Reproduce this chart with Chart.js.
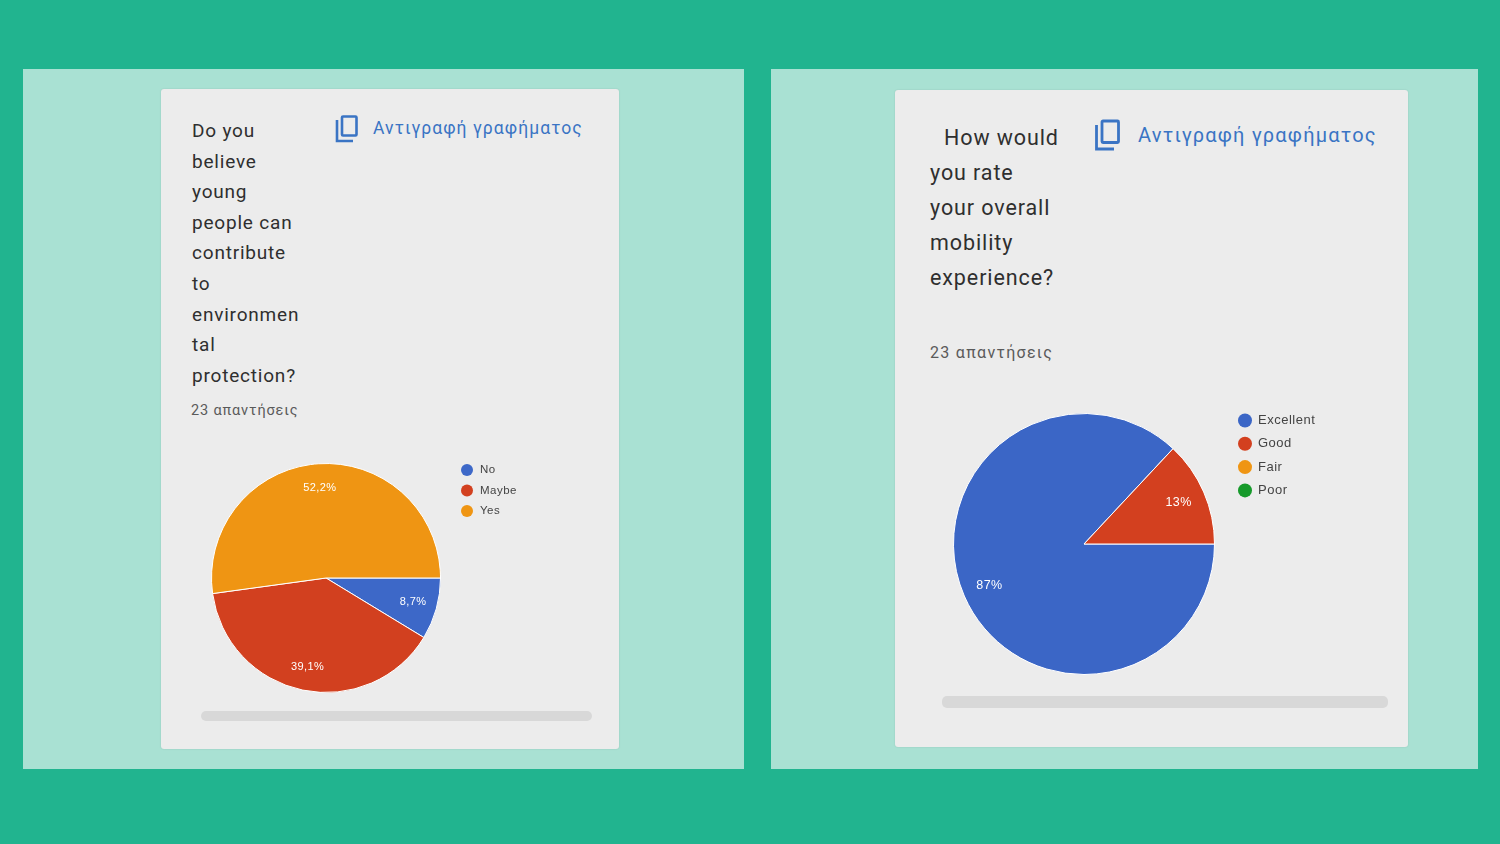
<!DOCTYPE html>
<html>
<head>
<meta charset="utf-8">
<script src="https://cdn.jsdelivr.net/npm/chart.js@4.4.1/dist/chart.umd.min.js"></script>
<style>
  html, body { margin: 0; padding: 0; }
  body { width: 1500px; height: 844px; background: #21b48f; position: relative; overflow: hidden; font-family: Roboto, "Noto Sans", sans-serif; }
  .panel { position: absolute; background: #a9e1d3; }
  .card { position: absolute; background: #ececec; border-radius: 3px; box-shadow: 0 0 2px rgba(0,0,0,0.12); }
  .title { position: absolute; color: #2f2f2f; }
  .count { position: absolute; color: #5a5a5a; }
  .link { position: absolute; color: #3a74c4; white-space: nowrap; }
  .icon { position: absolute; }
  .bar { position: absolute; background: #d8d8d8; border-radius: 5px; }
  canvas { position: absolute; }
</style>
</head>
<body>
<div class="panel" style="left:23px;top:69px;width:721px;height:700px;"></div>
<div class="panel" style="left:771px;top:69px;width:707px;height:700px;"></div>

<div class="card" style="left:161px;top:89px;width:458px;height:660px;"></div>
<div class="card" style="left:895px;top:90px;width:513px;height:657px;"></div>

<!-- left card texts -->
<div class="title" style="left:192px;top:116px;font-size:19px;line-height:30.6px;letter-spacing:0.8px;">
Do you<br>believe<br>young<br>people can<br>contribute<br>to<br>environmen<br>tal<br>protection?</div>
<div class="count" style="left:191px;top:402px;font-size:14.5px;letter-spacing:0.85px;">23 απαντήσεις</div>
<svg class="icon" style="left:334px;top:114px;" width="26" height="30" viewBox="0 0 26 30">
  <path d="M3 6 V27 H19" fill="none" stroke="#3a74c4" stroke-width="2.6"/>
  <rect x="8" y="2.5" width="14.5" height="19" rx="1" fill="none" stroke="#3a74c4" stroke-width="2.6"/>
</svg>
<div class="link" style="left:373px;top:118px;font-size:17.5px;letter-spacing:1.1px;">Αντιγραφή γραφήματος</div>
<canvas id="chartLeft" width="400" height="260" style="left:200px;top:450px;"></canvas>
<div class="bar" style="left:201px;top:711px;width:391px;height:10px;"></div>

<!-- right card texts -->
<div class="title" style="left:930px;top:120px;font-size:21.5px;line-height:35px;letter-spacing:0.9px;">
<span style="margin-left:14px;">How would</span><br>you rate<br>your overall<br>mobility<br>experience?</div>
<div class="count" style="left:930px;top:343px;font-size:16px;letter-spacing:1.3px;">23 απαντήσεις</div>
<svg class="icon" style="left:1093px;top:118px;" width="30" height="34" viewBox="0 0 30 34">
  <path d="M3.5 7 V31 H21" fill="none" stroke="#3a74c4" stroke-width="2.8"/>
  <rect x="9" y="3" width="16.5" height="21.5" rx="1" fill="none" stroke="#3a74c4" stroke-width="2.8"/>
</svg>
<div class="link" style="left:1138px;top:123px;font-size:20px;letter-spacing:1.2px;">Αντιγραφή γραφήματος</div>
<canvas id="chartRight" width="420" height="290" style="left:940px;top:400px;"></canvas>
<div class="bar" style="left:942px;top:696px;width:446px;height:12px;"></div>

<script>
// Datos de la encuesta (23 respuestas cada una)
const leftLabels = ["No", "Maybe", "Yes"];
const leftValues = [2, 9, 12];
const leftColors = ["#3d68c8", "#d2401f", "#ef9513"];

const rightLabels = ["Excellent", "Good", "Fair", "Poor"];
const rightValues = [20, 3, 0, 0];
const rightColors = ["#3b66c6", "#d3401f", "#ef9513", "#169a2b"];

// Formato de porcentaje estilo Google Forms: 3 cifras significativas, coma decimal
function formatPct(value, total) {
  const pct = parseFloat(((value / total) * 100).toPrecision(3));
  return String(pct).replace(".", ",") + "%";
}

// Plugin para las etiquetas dentro de las porciones
const sliceLabels = {
  id: "sliceLabels",
  afterDatasetsDraw(chart, args, opts) {
    const ctx = chart.ctx;
    const data = chart.data.datasets[0].data;
    const total = data.reduce((a, b) => a + b, 0);
    chart.getDatasetMeta(0).data.forEach((arc, i) => {
      if (!data[i]) return;
      const mid = (arc.startAngle + arc.endAngle) / 2;
      const r = arc.outerRadius * 0.79;
      ctx.save();
      ctx.fillStyle = "#ffffff";
      ctx.font = opts.font;
      ctx.letterSpacing = "0.4px";
      ctx.textAlign = "center";
      ctx.textBaseline = "middle";
      ctx.fillText(formatPct(data[i], total), arc.x + Math.cos(mid) * r, arc.y + Math.sin(mid) * r);
      ctx.restore();
    });
  },
};

// Plugin para la leyenda (puntos y texto a la derecha del gráfico)
const dotLegend = {
  id: "dotLegend",
  afterDraw(chart, args, opts) {
    const ctx = chart.ctx;
    const colors = chart.data.datasets[0].backgroundColor;
    chart.data.labels.forEach((label, i) => {
      const y = opts.y + i * opts.step;
      ctx.save();
      ctx.beginPath();
      ctx.arc(opts.x, y, opts.dot, 0, Math.PI * 2);
      ctx.fillStyle = colors[i];
      ctx.fill();
      ctx.fillStyle = "#444";
      ctx.font = opts.font;
      ctx.letterSpacing = "0.5px";
      ctx.textBaseline = "middle";
      ctx.fillText(label, opts.x + opts.gap, y);
      ctx.restore();
    });
  },
};

function makePie(id, labels, values, colors, padding, labelFont, legendOpts) {
  const ctx = document.getElementById(id).getContext("2d");
  return new Chart(ctx, {
    type: "pie",
    data: {
      labels: labels,
      datasets: [
        {
          data: values,
          backgroundColor: colors,
          borderColor: "#ffffff",
          borderWidth: 1,
        },
      ],
    },
    options: {
      responsive: false,
      animation: false,
      rotation: 90, // empezar a las 3 en punto
      layout: { padding: padding },
      plugins: {
        legend: { display: false },
        tooltip: { enabled: false },
        sliceLabels: { font: labelFont },
        dotLegend: legendOpts,
      },
    },
    plugins: [sliceLabels, dotLegend],
  });
}

makePie("chartLeft", leftLabels, leftValues, leftColors,
  { left: 11, top: 13, right: 159, bottom: 17 },
  "11px 'Liberation Sans', Arial, sans-serif",
  { x: 267, y: 20, step: 20.5, dot: 6, gap: 13, font: "11.5px 'Liberation Sans', Arial, sans-serif" });

makePie("chartRight", rightLabels, rightValues, rightColors,
  { left: 13, top: 13, right: 145, bottom: 15 },
  "12.5px 'Liberation Sans', Arial, sans-serif",
  { x: 305, y: 20.5, step: 23.3, dot: 7, gap: 13, font: "13px 'Liberation Sans', Arial, sans-serif" });
</script>
</body>
</html>
